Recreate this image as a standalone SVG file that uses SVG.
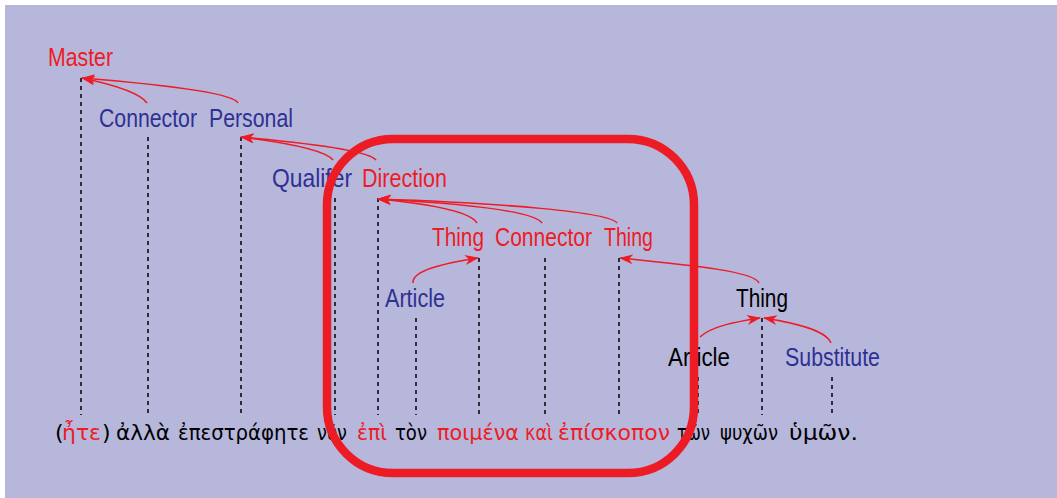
<svg xmlns="http://www.w3.org/2000/svg" width="1057" height="498" viewBox="0 0 1057 498">
<defs>
<marker id="ah" viewBox="0 0 14 10" refX="13" refY="5" markerWidth="14" markerHeight="10" markerUnits="userSpaceOnUse" orient="auto">
<path d="M0,0 L14,5 L0,10 L4,5 Z" fill="#ed1c24"/>
</marker>
<style>
.lbl{font-family:"Liberation Sans",Arial,sans-serif;font-size:25px;}
.gk{font-family:"DejaVu Sans",sans-serif;font-size:22px;fill:#000;}
.r{fill:#ed1c24;}
.b{fill:#2e3192;}
.k{fill:#000;}
.dash{stroke:#000;stroke-width:1.5;stroke-dasharray:4,4;fill:none;}
.arr{stroke:#ed1c24;stroke-width:1.5;fill:none;marker-end:url(#ah);}
</style>
</defs>
<rect x="0" y="0" width="1057" height="498" fill="#ffffff"/>
<rect x="5" y="5" width="1052" height="493" fill="#b7b7dc"/>

<g id="dashes">
<line class="dash" x1="81" y1="78" x2="81" y2="415"/>
<line class="dash" x1="148" y1="137" x2="148" y2="415"/>
<line class="dash" x1="241" y1="137" x2="241" y2="415"/>
<line class="dash" x1="335" y1="198" x2="335" y2="415"/>
<line class="dash" x1="378" y1="198" x2="378" y2="415"/>
<line class="dash" x1="479" y1="258" x2="479" y2="415"/>
<line class="dash" x1="545" y1="258" x2="545" y2="415"/>
<line class="dash" x1="619" y1="258" x2="619" y2="415"/>
<line class="dash" x1="416" y1="318" x2="416" y2="415"/>
<line class="dash" x1="762" y1="318" x2="762" y2="415"/>
<line class="dash" x1="698" y1="377" x2="698" y2="415"/>
<line class="dash" x1="832" y1="377" x2="832" y2="415"/>
</g>

<g id="n-master"><text class="lbl r" x="48" y="66" textLength="65" lengthAdjust="spacingAndGlyphs">Master</text></g>
<g id="n-connector1"><text class="lbl b" x="99" y="127" textLength="98" lengthAdjust="spacingAndGlyphs">Connector</text></g>
<g id="n-personal"><text class="lbl b" x="209" y="127" textLength="84" lengthAdjust="spacingAndGlyphs">Personal</text></g>
<g id="n-qualifer"><text class="lbl b" x="272" y="187" textLength="80" lengthAdjust="spacingAndGlyphs">Qualifer</text></g>
<g id="n-direction"><text class="lbl r" x="362" y="187" textLength="85" lengthAdjust="spacingAndGlyphs">Direction</text></g>
<g id="n-thing1"><text class="lbl r" x="432" y="246" textLength="52" lengthAdjust="spacingAndGlyphs">Thing</text></g>
<g id="n-connector2"><text class="lbl r" x="495" y="246" textLength="97" lengthAdjust="spacingAndGlyphs">Connector</text></g>
<g id="n-thing2"><text class="lbl r" x="604" y="246" textLength="49" lengthAdjust="spacingAndGlyphs">Thing</text></g>
<g id="n-article1"><text class="lbl b" x="385" y="307" textLength="60" lengthAdjust="spacingAndGlyphs">Article</text></g>
<g id="n-thing3"><text class="lbl k" x="736" y="307" textLength="52" lengthAdjust="spacingAndGlyphs">Thing</text></g>
<g id="n-article2"><text class="lbl k" x="668" y="366" textLength="62" lengthAdjust="spacingAndGlyphs">Article</text></g>
<g id="n-substitute"><text class="lbl b" x="785" y="366" textLength="95" lengthAdjust="spacingAndGlyphs">Substitute</text></g>

<g id="connectors">
<path class="arr" d="M147,103 C140,93 115,85 82,78"/>
<path class="arr" d="M238,103 C234,94 180,86 82,78"/>
<path class="arr" d="M333,160 C326,151 290,143 241,137"/>
<path class="arr" d="M376,160 C370,152 320,144 241,137"/>
<path class="arr" d="M477,223 C470,211 430,204 378,199"/>
<path class="arr" d="M542,223 C535,212 470,204 378,199"/>
<path class="arr" d="M617,223 C610,212 500,203 378,199"/>
<path class="arr" d="M413,283 C412,271 440,264 478,258"/>
<path class="arr" d="M759,283 C755,272 700,266 620,258"/>
<path class="arr" d="M700,337 C712,326 735,322 760,318"/>
<path class="arr" d="M831,343 C826,330 795,323 764,318"/>
</g>

<g id="greek">
<text class="gk" x="55" y="440">(</text>
<text class="gk r" x="62" y="440" textLength="39" lengthAdjust="spacingAndGlyphs">ἦτε</text>
<text class="gk" x="102" y="440">)</text>
<text class="gk" x="116" y="440" textLength="54" lengthAdjust="spacingAndGlyphs">ἀλλὰ</text>
<text class="gk" x="178" y="440" textLength="131" lengthAdjust="spacingAndGlyphs">ἐπεστράφητε</text>
<text class="gk" x="317" y="440" textLength="30" lengthAdjust="spacingAndGlyphs">νῦν</text>
<text class="gk r" x="357" y="440" textLength="30" lengthAdjust="spacingAndGlyphs">ἐπὶ</text>
<text class="gk" x="395" y="440" textLength="32" lengthAdjust="spacingAndGlyphs">τὸν</text>
<text class="gk r" x="437" y="440" textLength="82" lengthAdjust="spacingAndGlyphs">ποιμένα</text>
<text class="gk r" x="525" y="440" textLength="28" lengthAdjust="spacingAndGlyphs">καὶ</text>
<text class="gk r" x="558" y="440" textLength="112" lengthAdjust="spacingAndGlyphs">ἐπίσκοπον</text>
<text class="gk" x="677" y="440" textLength="33" lengthAdjust="spacingAndGlyphs">τῶν</text>
<text class="gk" x="720" y="440" textLength="58" lengthAdjust="spacingAndGlyphs">ψυχῶν</text>
<text class="gk" x="789" y="440" textLength="69" lengthAdjust="spacingAndGlyphs">ὑμῶν.</text>
</g>

<g id="highlight">
<rect x="327" y="139" width="367" height="334" rx="66" ry="66" fill="none" stroke="#ed1c24" stroke-width="8.5"/>
</g>
</svg>
